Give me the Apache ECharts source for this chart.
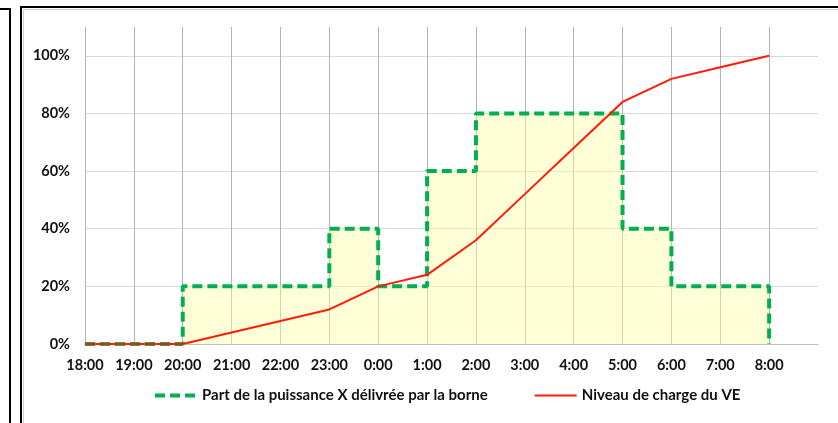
<!DOCTYPE html>
<html>
<head>
<meta charset="utf-8">
<script src="https://cdn.jsdelivr.net/npm/echarts@6/dist/echarts.min.js"></script>
<style>
  html, body { margin: 0; padding: 0; background: #fff; }
  #chart { width: 838px; height: 423px; }
</style>
</head>
<body>
<div id="chart"></div>
<script>
// heures (la derniere case vide sert de marge a droite)
let hours = ['18:00', '19:00', '20:00', '21:00', '22:00', '23:00', '0:00', '1:00',
  '2:00', '3:00', '4:00', '5:00', '6:00', '7:00', '8:00', '']
// part de la puissance X delivree par la borne (%)
let powerShare = [0, 0, 20, 20, 20, 40, 20, 60, 80, 80, 80, 40, 20, 20, 0]
// niveau de charge du VE (%)
let chargeLevel = [0, 0, 0, 4, 8, 12, 20, 24, 36, 52, 68, 84, 92, 96, 100]
let yTicks = [0, 20, 40, 60, 80, 100]

let font = 'Lato, "Open Sans", sans-serif'
let default_color = {
  tc: '#111111',
  green: '#00b050',
  red: '#ff1a0a'
}
let greenDash = { color: default_color.green, width: 4, type: [10, 5] }
let redLine = { color: default_color.red, width: 2 }

let chart = echarts.init(document.getElementById('chart'))
let option = {
  animation: false,
  backgroundColor: '#fff',
  grid: {
    left: 85,
    right: 20,
    top: 27,
    bottom: 79
  },
  legend: {
    bottom: 15,
    left: 148,
    itemWidth: 42,
    itemHeight: 12,
    itemGap: 46,
    itemStyle: { opacity: 0 },
    textStyle: {
      color: default_color.tc,
      fontFamily: font,
      fontWeight: 'bold',
      fontSize: 15
    },
    data: [
      { name: 'Part de la puissance X délivrée par la borne', lineStyle: greenDash },
      { name: 'Niveau de charge du VE', lineStyle: redLine }
    ]
  },
  xAxis: {
    type: 'category',
    boundaryGap: false,
    data: hours,
    axisTick: { show: false },
    axisLine: { lineStyle: { color: '#bfbfbf', width: 1 } },
    axisLabel: {
      color: default_color.tc,
      fontFamily: font,
      fontWeight: 'bold',
      fontSize: 14.5,
      margin: 14,
      interval: 0
    },
    splitLine: {
      show: true,
      showMaxLine: false,
      lineStyle: { color: '#b3b3b3', width: 1 }
    }
  },
  yAxis: {
    type: 'value',
    min: 0,
    max: 110,
    interval: 20,
    axisLine: { show: false },
    axisTick: { show: false },
    axisLabel: {
      color: default_color.tc,
      fontFamily: font,
      fontWeight: 'bold',
      fontSize: 14.5,
      margin: 15,
      formatter: (v) => yTicks.indexOf(v) >= 0 ? v + '%' : ''
    },
    splitLine: {
      showMaxLine: false,
      lineStyle: { color: '#d9d9d9', width: 1 }
    }
  },
  series: [
    {
      name: 'Part de la puissance X délivrée par la borne',
      type: 'line',
      step: 'end',
      data: powerShare,
      symbol: 'none',
      itemStyle: { color: default_color.green },
      lineStyle: greenDash,
      areaStyle: { color: 'rgba(255,255,160,0.42)', opacity: 1 },
      z: 2
    },
    {
      name: 'Niveau de charge du VE',
      type: 'line',
      data: chargeLevel,
      symbol: 'none',
      itemStyle: { color: default_color.red },
      lineStyle: redLine,
      z: 3
    }
  ],
  graphic: [
    // cadre du graphique
    { type: 'rect', shape: { x: 21, y: 7, width: 840, height: 440 }, style: { fill: 'none', stroke: '#000', lineWidth: 2 }, silent: true },
    { type: 'rect', shape: { x: 23.5, y: 9.5, width: 840, height: 440 }, style: { fill: 'none', stroke: '#d0d0d0', lineWidth: 1 }, silent: true },
    // bord du graphique voisin
    { type: 'polyline', shape: { points: [[0, 9], [10, 9], [10, 430]] }, style: { fill: 'none', stroke: '#000', lineWidth: 2 }, silent: true }
  ]
}
chart.setOption(option)
</script>
</body>
</html>
